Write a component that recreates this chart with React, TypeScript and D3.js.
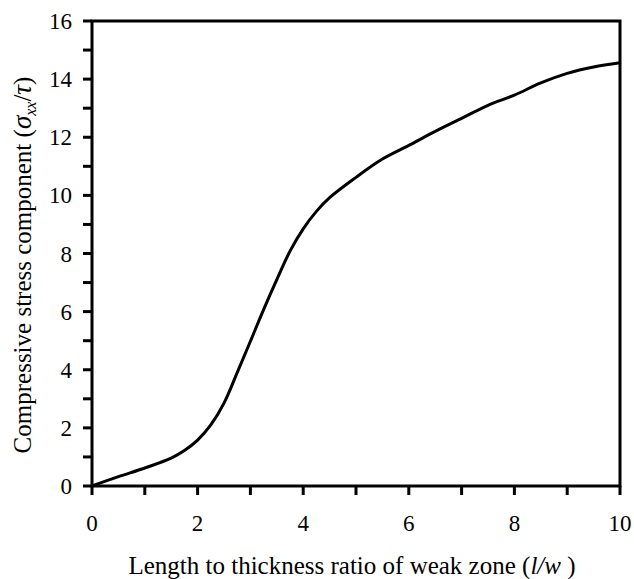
import React from "react";
import * as d3 from "d3";

const xValues = [0, 0.5, 1, 1.5, 1.75, 2, 2.25, 2.5, 2.75, 3, 3.25, 3.5, 3.75, 4, 4.25, 4.5, 5, 5.5, 6, 6.5, 7, 7.5, 8, 8.5, 9, 9.5, 10];
const yValues = [0, 0.32, 0.62, 0.96, 1.22, 1.58, 2.1, 2.85, 3.9, 4.98, 6.07, 7.1, 8.08, 8.85, 9.45, 9.92, 10.62, 11.25, 11.72, 12.2, 12.65, 13.1, 13.45, 13.87, 14.2, 14.42, 14.56];
const xTickLabels = [0, 2, 4, 6, 8, 10];
const yTickLabels = [0, 2, 4, 6, 8, 10, 12, 14, 16];
const xMinorTicks = [1, 3, 5, 7, 9];
const yMinorTicks = [1, 3, 5, 7, 9, 11, 13, 15];

const W = 634;
const H = 579;
const left = 92;
const right = 620;
const top = 21;
const bottom = 486;

const serif = { fontFamily: "Liberation Serif" };

export default function App() {
  const x = d3.scaleLinear().domain([0, 10]).range([left, right]);
  const y = d3.scaleLinear().domain([0, 16]).range([bottom, top]);
  const data = xValues.map((v, i) => [v, yValues[i]] as [number, number]);
  const line = d3
    .line<[number, number]>()
    .x((d) => x(d[0]))
    .y((d) => y(d[1]))
    .curve(d3.curveCatmullRom.alpha(0.5));
  const tickLen = 9;
  const sw = 3;
  return (
    <svg
      width={W}
      height={H}
      style={{ position: "absolute", left: 0, top: 0, background: "#fff" }}
    >
      <rect x={0} y={0} width={W} height={H} fill="#fff" />
      <path d={line(data) || ""} fill="none" stroke="#000" strokeWidth={3} strokeLinejoin="round" />
      <rect x={left} y={top} width={right - left} height={bottom - top} fill="none" stroke="#000" strokeWidth={sw} />
      {[...xTickLabels, ...xMinorTicks].map((t) => (
        <line key={"xt" + t} x1={x(t)} x2={x(t)} y1={bottom} y2={bottom + tickLen} stroke="#000" strokeWidth={sw} />
      ))}
      {[...yTickLabels, ...yMinorTicks].map((t) => (
        <line key={"yt" + t} x1={left - tickLen} x2={left} y1={y(t)} y2={y(t)} stroke="#000" strokeWidth={sw} />
      ))}
      {xTickLabels.map((t) => (
        <text key={"xl" + t} x={x(t)} y={531} fontSize={23} textAnchor="middle" style={serif}>
          {t}
        </text>
      ))}
      {yTickLabels.map((t) => (
        <text key={"yl" + t} x={72} y={y(t) + 8} fontSize={23} textAnchor="end" style={serif}>
          {t}
        </text>
      ))}
      <text x={352} y={574} fontSize={25} textAnchor="middle" style={serif}>
        Length to thickness ratio of weak zone (<tspan fontStyle="italic">l/w</tspan> )
      </text>
      <text transform={`translate(31,${265}) rotate(-90)`} fontSize={25} textAnchor="middle" style={serif}>
        Compressive stress component (<tspan fontStyle="italic" fontSize={27}>σ</tspan>
        <tspan fontStyle="italic" fontSize={16} dy={5}>xx</tspan>
        <tspan dy={-5}>/</tspan>
        <tspan fontStyle="italic" fontSize={27}>τ</tspan>)
      </text>
    </svg>
  );
}
